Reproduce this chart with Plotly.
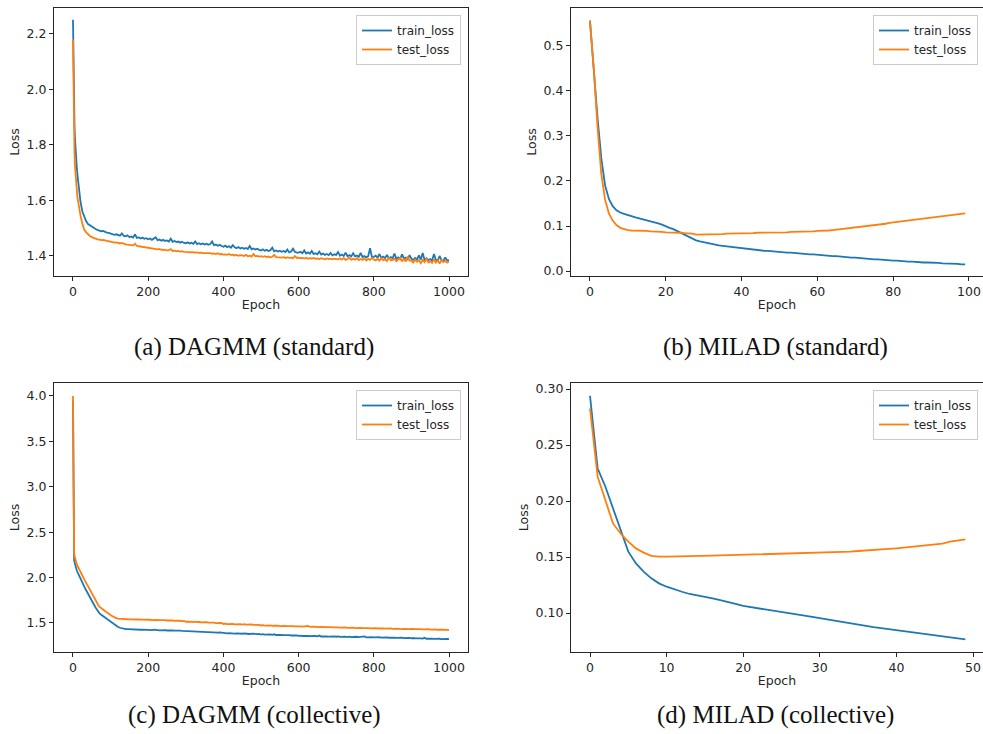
import plotly.graph_objects as go

# ---------------- data ----------------
dagmm_epochs = [0, 1, 2, 3, 4, 5, 6, 7, 8, 10, 12, 15, 20, 25, 30, 35, 40, 45] + list(range(50, 1001, 5))

dagmm_std_train = [
    2.25, 2.10, 2.00, 1.93, 1.87, 1.83, 1.80, 1.77, 1.75, 1.72, 1.69, 1.65, 1.595, 1.56, 1.54, 1.525, 1.515, 1.51,
    1.505, 1.500, 1.497, 1.494, 1.492, 1.489, 1.490, 1.486, 1.484, 1.483,
    1.480, 1.479, 1.476, 1.478, 1.474, 1.473, 1.481, 1.472, 1.471, 1.474,
    1.468, 1.470, 1.466, 1.478, 1.465, 1.467, 1.463, 1.466, 1.462, 1.464,
    1.460, 1.463, 1.458, 1.461, 1.467, 1.457, 1.459, 1.455, 1.458, 1.454,
    1.456, 1.452, 1.462, 1.451, 1.454, 1.450, 1.452, 1.448, 1.451, 1.447,
    1.446, 1.449, 1.445, 1.448, 1.444, 1.452, 1.443, 1.446, 1.442, 1.445,
    1.441, 1.444, 1.440, 1.443, 1.452, 1.439, 1.441, 1.437, 1.440, 1.436,
    1.433, 1.437, 1.432, 1.435, 1.430, 1.439, 1.431, 1.428, 1.432, 1.427,
    1.430, 1.426, 1.429, 1.425, 1.436, 1.424, 1.427, 1.423, 1.426, 1.422,
    1.420, 1.424, 1.419, 1.422, 1.418, 1.421, 1.430, 1.417, 1.420, 1.416,
    1.419, 1.415, 1.418, 1.414, 1.423, 1.413, 1.416, 1.426, 1.415, 1.412,
    1.412, 1.415, 1.410, 1.420, 1.409, 1.413, 1.408, 1.418, 1.407, 1.410,
    1.406, 1.416, 1.405, 1.409, 1.404, 1.407, 1.403, 1.411, 1.402, 1.406,
    1.404, 1.414, 1.401, 1.405, 1.400, 1.412, 1.399, 1.403, 1.398, 1.410,
    1.399, 1.402, 1.397, 1.411, 1.396, 1.400, 1.395, 1.399, 1.428, 1.396,
    1.397, 1.401, 1.394, 1.407, 1.393, 1.398, 1.392, 1.404, 1.391, 1.396,
    1.392, 1.409, 1.390, 1.395, 1.389, 1.406, 1.391, 1.394, 1.388, 1.403,
    1.390, 1.386, 1.393, 1.388, 1.402, 1.387, 1.411, 1.386, 1.392, 1.385,
    1.389, 1.384, 1.407, 1.386, 1.383, 1.400, 1.385, 1.382, 1.395, 1.384,
    1.385,
]
dagmm_std_test = [
    2.18, 2.02, 1.90, 1.82, 1.77, 1.73, 1.70, 1.68, 1.665, 1.64, 1.61, 1.58, 1.545, 1.515, 1.495, 1.485, 1.478, 1.472,
    1.468, 1.465, 1.462, 1.460, 1.459, 1.457, 1.458, 1.455, 1.454, 1.453,
    1.451, 1.450, 1.448, 1.449, 1.446, 1.445, 1.447, 1.443, 1.442, 1.441,
    1.440, 1.441, 1.438, 1.444, 1.436, 1.435, 1.434, 1.433, 1.432, 1.431,
    1.428, 1.429, 1.426, 1.427, 1.425, 1.424, 1.425, 1.422, 1.423, 1.421,
    1.420, 1.421, 1.425, 1.418, 1.419, 1.417, 1.418, 1.416, 1.417, 1.415,
    1.415, 1.416, 1.414, 1.413, 1.414, 1.412, 1.413, 1.411, 1.412, 1.410,
    1.410, 1.411, 1.409, 1.410, 1.408, 1.409, 1.407, 1.410, 1.406, 1.407,
    1.405, 1.406, 1.404, 1.407, 1.403, 1.405, 1.402, 1.404, 1.401, 1.403,
    1.402, 1.400, 1.404, 1.399, 1.401, 1.398, 1.407, 1.399, 1.400, 1.398,
    1.399, 1.397, 1.399, 1.396, 1.398, 1.395, 1.397, 1.404, 1.396, 1.395,
    1.396, 1.394, 1.396, 1.393, 1.395, 1.393, 1.394, 1.392, 1.400, 1.393,
    1.394, 1.392, 1.393, 1.391, 1.394, 1.390, 1.392, 1.391, 1.393, 1.390,
    1.391, 1.389, 1.392, 1.390, 1.388, 1.391, 1.389, 1.390, 1.388, 1.390,
    1.390, 1.388, 1.391, 1.387, 1.393, 1.386, 1.389, 1.394, 1.386, 1.390,
    1.387, 1.392, 1.385, 1.389, 1.386, 1.391, 1.384, 1.390, 1.386, 1.393,
    1.387, 1.384, 1.390, 1.383, 1.392, 1.385, 1.388, 1.382, 1.395, 1.384,
    1.386, 1.390, 1.381, 1.387, 1.393, 1.382, 1.389, 1.380, 1.398, 1.383,
    1.383, 1.376, 1.387, 1.379, 1.385, 1.374, 1.386, 1.378, 1.391, 1.377,
    1.381, 1.375, 1.388, 1.376, 1.384, 1.373, 1.386, 1.378, 1.382, 1.376,
    1.380,
]

dagmm_col_train = [
    3.95, 2.60, 2.30, 2.20, 2.17, 2.15, 2.13, 2.12, 2.11, 2.08, 2.06, 2.03, 1.98, 1.94, 1.90, 1.86, 1.82, 1.78,
    1.735, 1.700, 1.670, 1.640, 1.607, 1.590, 1.575, 1.558, 1.540, 1.525,
    1.510, 1.495, 1.478, 1.465, 1.455, 1.447, 1.440, 1.436, 1.433, 1.432,
    1.430, 1.431, 1.428, 1.429, 1.426, 1.427, 1.425, 1.426, 1.424, 1.425,
    1.423, 1.424, 1.421, 1.426, 1.420, 1.422, 1.419, 1.421, 1.418, 1.420,
    1.417, 1.419, 1.416, 1.418, 1.415, 1.417, 1.414, 1.416, 1.413, 1.412,
    1.405, 1.410, 1.404, 1.409, 1.403, 1.407, 1.402, 1.406, 1.401, 1.404,
    1.400, 1.399, 1.401, 1.397, 1.399, 1.395, 1.397, 1.393, 1.396, 1.392,
    1.386, 1.390, 1.385, 1.388, 1.384, 1.387, 1.383, 1.386, 1.382, 1.385,
    1.381, 1.384, 1.380, 1.383, 1.378, 1.382, 1.377, 1.380, 1.376, 1.379,
    1.372, 1.376, 1.371, 1.374, 1.370, 1.373, 1.369, 1.375, 1.367, 1.370,
    1.366, 1.369, 1.365, 1.368, 1.363, 1.366, 1.362, 1.365, 1.360, 1.363,
    1.357, 1.361, 1.356, 1.359, 1.355, 1.358, 1.354, 1.357, 1.353, 1.356,
    1.352, 1.361, 1.351, 1.354, 1.350, 1.353, 1.349, 1.352, 1.348, 1.351,
    1.348, 1.352, 1.347, 1.350, 1.346, 1.349, 1.345, 1.350, 1.344, 1.347,
    1.344, 1.348, 1.343, 1.346, 1.342, 1.352, 1.342, 1.345, 1.341, 1.344,
    1.342, 1.345, 1.340, 1.343, 1.339, 1.342, 1.338, 1.341, 1.337, 1.340,
    1.336, 1.339, 1.335, 1.338, 1.334, 1.337, 1.333, 1.336, 1.332, 1.335,
    1.330, 1.334, 1.329, 1.332, 1.328, 1.331, 1.327, 1.336, 1.326, 1.329,
    1.325, 1.328, 1.324, 1.327, 1.323, 1.326, 1.322, 1.325, 1.321, 1.324,
    1.322,
]
dagmm_col_test = [
    4.00, 2.75, 2.40, 2.28, 2.24, 2.22, 2.20, 2.19, 2.18, 2.15, 2.13, 2.10, 2.06, 2.02, 1.98, 1.94, 1.90, 1.865,
    1.827, 1.790, 1.755, 1.715, 1.680, 1.660, 1.648, 1.632, 1.614, 1.600,
    1.587, 1.574, 1.562, 1.553, 1.548, 1.545, 1.544, 1.543, 1.542, 1.541,
    1.540, 1.541, 1.538, 1.539, 1.537, 1.538, 1.536, 1.537, 1.535, 1.536,
    1.533, 1.535, 1.532, 1.534, 1.531, 1.533, 1.530, 1.532, 1.529, 1.531,
    1.527, 1.529, 1.526, 1.528, 1.524, 1.526, 1.522, 1.524, 1.520, 1.522,
    1.512, 1.516, 1.511, 1.515, 1.510, 1.514, 1.509, 1.513, 1.507, 1.510,
    1.505, 1.508, 1.503, 1.506, 1.501, 1.504, 1.499, 1.502, 1.497, 1.500,
    1.489, 1.493, 1.488, 1.491, 1.486, 1.490, 1.485, 1.488, 1.484, 1.487,
    1.482, 1.486, 1.481, 1.484, 1.479, 1.483, 1.478, 1.481, 1.476, 1.479,
    1.472, 1.476, 1.471, 1.474, 1.470, 1.473, 1.469, 1.472, 1.468, 1.471,
    1.466, 1.469, 1.465, 1.468, 1.464, 1.467, 1.463, 1.466, 1.462, 1.465,
    1.460, 1.463, 1.459, 1.462, 1.458, 1.466, 1.457, 1.460, 1.456, 1.459,
    1.455, 1.458, 1.454, 1.457, 1.453, 1.456, 1.452, 1.455, 1.451, 1.454,
    1.449, 1.452, 1.448, 1.451, 1.447, 1.450, 1.446, 1.449, 1.445, 1.448,
    1.444, 1.447, 1.443, 1.446, 1.442, 1.445, 1.441, 1.444, 1.440, 1.443,
    1.440, 1.443, 1.439, 1.442, 1.438, 1.441, 1.437, 1.440, 1.436, 1.439,
    1.435, 1.438, 1.434, 1.437, 1.433, 1.436, 1.432, 1.435, 1.431, 1.434,
    1.432, 1.435, 1.431, 1.434, 1.430, 1.433, 1.429, 1.432, 1.428, 1.431,
    1.427, 1.430, 1.426, 1.429, 1.425, 1.428, 1.424, 1.427, 1.423, 1.426,
    1.423,
]

milad_std_epochs = list(range(100))
milad_std_train = [
    0.556, 0.44, 0.34, 0.25, 0.19, 0.16, 0.144, 0.135, 0.130, 0.127,
    0.124, 0.121, 0.119, 0.117, 0.115, 0.113, 0.111, 0.109, 0.106, 0.103,
    0.099, 0.096, 0.093, 0.089, 0.085, 0.081, 0.077, 0.072, 0.068, 0.066,
    0.064, 0.062, 0.060, 0.059, 0.057, 0.056, 0.055, 0.054, 0.052, 0.051,
    0.050, 0.049, 0.048, 0.048, 0.047, 0.046, 0.045, 0.045, 0.044, 0.043,
    0.043, 0.042, 0.041, 0.041, 0.040, 0.039, 0.039, 0.038, 0.037, 0.037,
    0.036, 0.035, 0.035, 0.034, 0.033, 0.033, 0.032, 0.031, 0.031, 0.030,
    0.030, 0.029, 0.028, 0.028, 0.027, 0.026, 0.026, 0.025, 0.024, 0.024,
    0.023, 0.023, 0.022, 0.022, 0.021, 0.021, 0.020, 0.020, 0.019, 0.019,
    0.019, 0.018, 0.018, 0.017, 0.017, 0.017, 0.016, 0.016, 0.015, 0.015,
]
milad_std_test = [
    0.556, 0.45, 0.32, 0.215, 0.158, 0.128, 0.112, 0.102, 0.096, 0.093,
    0.091, 0.090, 0.090, 0.089, 0.089, 0.089, 0.088, 0.088, 0.087, 0.087,
    0.086, 0.086, 0.086, 0.085, 0.085, 0.084, 0.084, 0.083, 0.081, 0.081,
    0.081, 0.081, 0.081, 0.082, 0.082, 0.082, 0.083, 0.083, 0.083, 0.083,
    0.084, 0.084, 0.084, 0.084, 0.085, 0.085, 0.085, 0.086, 0.085, 0.086,
    0.086, 0.086, 0.086, 0.087, 0.087, 0.087, 0.087, 0.088, 0.088, 0.088,
    0.089, 0.089, 0.090, 0.090, 0.091, 0.092, 0.092, 0.093, 0.094, 0.095,
    0.096, 0.097, 0.098, 0.099, 0.100, 0.101, 0.103, 0.104, 0.105, 0.107,
    0.108, 0.109, 0.110, 0.112, 0.113, 0.114, 0.115, 0.116, 0.117, 0.118,
    0.119, 0.120, 0.121, 0.122, 0.122, 0.123, 0.124, 0.125, 0.127, 0.128,
]

milad_col_epochs = list(range(50))
milad_col_train = [
    0.294, 0.229, 0.213, 0.1935, 0.1726, 0.1548, 0.1443, 0.137, 0.131, 0.1265,
    0.1235, 0.121, 0.119, 0.117, 0.1158, 0.1146, 0.113, 0.1115, 0.110, 0.1082,
    0.1063, 0.1053, 0.1043, 0.1033, 0.1022, 0.1012, 0.1000, 0.0988, 0.0977, 0.0965,
    0.0953, 0.0941, 0.0929, 0.0917, 0.0905, 0.0893, 0.0884, 0.0875, 0.0866, 0.0857,
    0.0848, 0.0839, 0.0830, 0.0822, 0.0813, 0.0804, 0.0795, 0.0785, 0.0775, 0.0765,
]
milad_col_test = [
    0.2827, 0.2217, 0.2009, 0.180, 0.171, 0.1637, 0.1577, 0.1539, 0.151, 0.1503,
    0.1503, 0.1504, 0.1503, 0.1503, 0.1505, 0.151, 0.1512, 0.1514, 0.1516, 0.1518,
    0.152, 0.1522, 0.1524, 0.1526, 0.1528, 0.153, 0.1532, 0.1533, 0.1534, 0.1535,
    0.1536, 0.1538, 0.154, 0.1544, 0.1548, 0.1554, 0.1557, 0.1562, 0.1566, 0.1572,
    0.1578, 0.1585, 0.159, 0.1595, 0.160, 0.1607, 0.162, 0.1637, 0.1648, 0.1658,
]

captions = ["(a) DAGMM (standard)", "(b) MILAD (standard)",
            "(c) DAGMM (collective)", "(d) MILAD (collective)"]
series_names = ["train_loss", "test_loss"]

# ---------------- figure ----------------
W, H = 983, 734
BLUE, ORANGE = "#1f77b4", "#ff7f0e"
SANS = "DejaVu Sans"
SERIF = "Liberation Serif"
AX = "#262626"

def px_x(a, b):
    return [a / W, b / W]

def px_y(top, bottom):
    return [1 - bottom / H, 1 - top / H]

panels = [
    dict(x=dagmm_epochs, tr=dagmm_std_train, te=dagmm_std_test, xd=px_x(54, 468), yd=px_y(8, 276),
         xr=[-50.5, 1050.5], yr=[1.328, 2.292], xt=[0, 200, 400, 600, 800, 1000],
         yt=[1.4, 1.6, 1.8, 2.0, 2.2], yf="%.1f", mirror_y=True),
    dict(x=milad_std_epochs, tr=milad_std_train, te=milad_std_test, xd=px_x(571, 983), yd=px_y(8, 276),
         xr=[-5.0, 103.7], yr=[-0.011, 0.584], xt=[0, 20, 40, 60, 80, 100],
         yt=[0.0, 0.1, 0.2, 0.3, 0.4, 0.5], yf="%.1f", mirror_y=False),
    dict(x=dagmm_epochs, tr=dagmm_col_train, te=dagmm_col_test, xd=px_x(54, 468), yd=px_y(383, 652),
         xr=[-50.5, 1050.5], yr=[1.18, 4.143], xt=[0, 200, 400, 600, 800, 1000],
         yt=[1.5, 2.0, 2.5, 3.0, 3.5, 4.0], yf="%.1f", mirror_y=True),
    dict(x=milad_col_epochs, tr=milad_col_train, te=milad_col_test, xd=px_x(571, 983), yd=px_y(383, 652),
         xr=[-2.48, 51.3], yr=[0.0652, 0.3054], xt=[0, 10, 20, 30, 40, 50],
         yt=[0.10, 0.15, 0.20, 0.25, 0.30], yf="%.2f", mirror_y=False),
]
legend_pos = [(461, 15), (978, 15), (461, 390), (978, 390)]
caption_pos = [(254, 347), (775, 347), (254, 715), (775, 715)]

fig = go.Figure()
layout = dict(width=W, height=H, margin=dict(l=0, r=0, t=0, b=0, autoexpand=False),
              paper_bgcolor="white", plot_bgcolor="white",
              font=dict(family=SANS, size=12, color=AX), annotations=[])

for i, p in enumerate(panels):
    n = "" if i == 0 else str(i + 1)
    lg = "legend" + n
    fig.add_trace(go.Scatter(x=p["x"], y=p["tr"], mode="lines", name=series_names[0],
                             line=dict(color=BLUE, width=1.8), xaxis="x" + n, yaxis="y" + n, legend=lg))
    fig.add_trace(go.Scatter(x=p["x"], y=p["te"], mode="lines", name=series_names[1],
                             line=dict(color=ORANGE, width=1.8), xaxis="x" + n, yaxis="y" + n, legend=lg))
    layout["xaxis" + n] = dict(domain=p["xd"], range=p["xr"], anchor="y" + n, tickvals=p["xt"],
                               automargin=False,
                               showline=True, linecolor=AX, linewidth=1.2, mirror=True,
                               ticks="outside", ticklen=4, tickwidth=1.2, tickcolor=AX,
                               showgrid=False, zeroline=False,
                               title=dict(text="Epoch", standoff=2, font=dict(size=12.5)),
                               tickfont=dict(size=12.5))
    layout["yaxis" + n] = dict(domain=p["yd"], range=p["yr"], anchor="x" + n, tickvals=p["yt"],
                               ticktext=[p["yf"] % v for v in p["yt"]], automargin=False,
                               showline=True, linecolor=AX, linewidth=1.2, mirror=p["mirror_y"],
                               ticks="outside", ticklen=4, tickwidth=1.2, tickcolor=AX,
                               showgrid=False, zeroline=False,
                               title=dict(text="Loss", standoff=4, font=dict(size=12.5)),
                               tickfont=dict(size=12.5))
    lx, ly = legend_pos[i]
    layout[lg] = dict(x=lx / W, y=1 - ly / H, xanchor="right", yanchor="top", xref="paper", yref="paper",
                      bgcolor="rgba(255,255,255,0.9)", bordercolor="#cccccc", borderwidth=1,
                      font=dict(family=SANS, size=12, color=AX), tracegroupgap=0)
    cx, cy = caption_pos[i]
    layout["annotations"].append(dict(text=captions[i], x=cx / W, y=1 - cy / H, xref="paper", yref="paper",
                                      xanchor="center", yanchor="middle", showarrow=False,
                                      font=dict(family=SERIF, size=25, color="#111")))

fig.update_layout(**layout)
fig.write_html("out.html", config={"displayModeBar": False},
               post_script="document.body.style.margin='0px';document.body.style.overflow='hidden';")
